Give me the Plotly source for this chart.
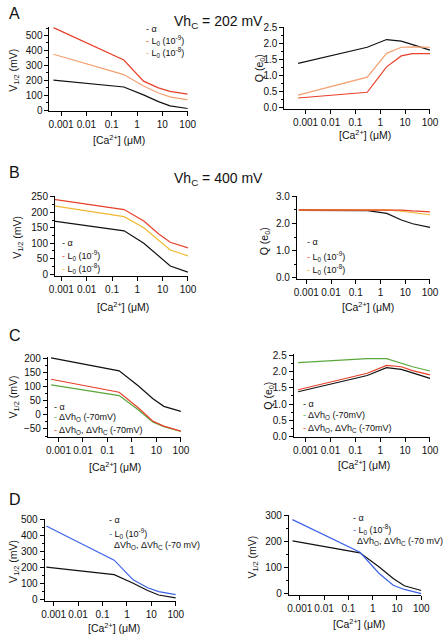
import plotly.graph_objects as go

W, H = 447, 638

# ---------------- data ----------------
ca = [0.0005, 0.3, 1.8, 7, 20, 100]

# Panel A (Vhc = 202 mV)
A_v_alpha = [202, 156, 103, 58, 30, 12]
A_v_L9 = [553, 336, 195, 150, 127, 108]
A_v_L8 = [375, 239, 162, 116, 90, 70]
A_q_alpha = [1.38, 1.88, 2.12, 2.07, 1.96, 1.79]
A_q_L8 = [0.39, 0.95, 1.69, 1.88, 1.89, 1.88]
A_q_L9 = [0.30, 0.48, 1.27, 1.61, 1.68, 1.68]

# Panel B (Vhc = 400 mV)
B_v_alpha = [172, 140, 100, 58, 26, 6]
B_v_L9 = [242, 209, 172, 130, 103, 85]
B_v_L8 = [221, 186, 150, 108, 78, 59]
B_q_alpha = [2.48, 2.47, 2.37, 2.13, 1.99, 1.86]
B_q_L9 = [2.50, 2.51, 2.51, 2.49, 2.46, 2.43]
B_q_L8 = [2.49, 2.50, 2.50, 2.45, 2.39, 2.32]

# Panel C
C_v_dVhO = [106, 68, 18, -25, -42, -59]
C_v_dVhOC = [126, 80, 25, -22, -40, -58]
C_q_dVhO = [2.28, 2.40, 2.40, 2.25, 2.15, 2.02]
C_q_dVhOC = [1.44, 1.95, 2.19, 2.15, 2.03, 1.90]

# Panel D
D_v_L9 = [457, 246, 124, 75, 51, 32]
D_v_L8 = [283, 158, 78, 32, 16, 0]

x_tickvals = [0.001, 0.01, 0.1, 1, 10, 100]
x_ticktext = ["0.001", "0.01", "0.1", "1", "10", "100"]

# ---------------- styles ----------------
BLACK = "#111111"
RED = "#e8402a"
ORANGE = "#f4a070"
YELLOW = "#f2b830"
GREEN = "#5aa83c"
BLUE = "#3d62e8"
FONT = "Liberation Sans, Arial, Helvetica, sans-serif"

fig = go.Figure()

# panel geometry: (xl, xr, x@0.001, x@100, ytop, ybot, v1, p1, v2, p2, dtick, fmt)
panels = [
    (45, 188, 57, 188, 22.5, 108, 0, 107, 500, 31, 100, None),
    (288, 439, 310, 438.7, 22, 105.5, 0, 104.3, 2.5, 22.7, 0.5, ".1f"),
    (50.7, 188.3, 57.3, 188.3, 194, 275, 0, 273.3, 250, 195, 50, None),
    (301, 439, 310.7, 438.7, 194, 278, 0, 277.3, 3.0, 194.3, 1.0, ".1f"),
    (43.3, 181, 54.3, 181, 357.7, 439, -50, 430.7, 200, 359, 50, None),
    (297.7, 439, 310, 438.7, 355, 439, 0, 438.3, 2.5, 356, 0.5, ".1f"),
    (40, 175.7, 49.3, 175.7, 522, 605, 0, 604.3, 500, 522.3, 100, None),
    (292.7, 429.7, 304, 429.7, 518, 599, 0, 598, 300, 518.3, 100, None),
]

layout = {}
for i, (xl, xr, x001, x100, yt, yb, v1, p1, v2, p2, dt, fmt) in enumerate(panels):
    n = "" if i == 0 else str(i + 1)
    dec = (x100 - x001) / 5.0
    xlo = -3 - (x001 - xl) / dec
    xhi = 2 + (xr - x100) / dec
    sc = (p1 - p2) / (v2 - v1)
    ylo = v1 - (yb - p1) / sc
    yhi = v1 + (p1 - yt) / sc
    common = dict(showline=True, linecolor="black", linewidth=1, ticks="outside",
                  ticklen=4, tickwidth=1, tickcolor="black", showgrid=False, zeroline=False,
                  tickfont=dict(family=FONT, size=10, color="#111"))
    layout["xaxis" + n] = dict(common, type="log", range=[xlo, xhi],
                               domain=[xl / W, xr / W], anchor="y" + n, tickangle=0,
                               tickmode="array", tickvals=x_tickvals, ticktext=x_ticktext)
    yd = dict(common, range=[ylo, yhi], domain=[1 - yb / H, 1 - yt / H], anchor="x" + n,
              tickmode="linear", tick0=0, dtick=dt, tickangle=0,
              minor=dict(dtick=dt / 2, tick0=0, ticklen=2, ticks="outside", tickcolor="black"))
    if fmt:
        yd["tickformat"] = fmt
    layout["yaxis" + n] = yd
fig.update_layout(**layout)


def add(ax, y, color):
    n = "" if ax == 1 else str(ax)
    fig.add_trace(go.Scatter(x=ca, y=y, mode="lines", line=dict(color=color, width=1.2),
                             xaxis="x" + n, yaxis="y" + n, cliponaxis=False, showlegend=False,
                             hoverinfo="skip"))


add(1, A_v_alpha, BLACK); add(1, A_v_L8, ORANGE); add(1, A_v_L9, RED)
add(2, A_q_alpha, BLACK); add(2, A_q_L8, ORANGE); add(2, A_q_L9, RED)
add(3, B_v_alpha, BLACK); add(3, B_v_L8, YELLOW); add(3, B_v_L9, RED)
add(4, B_q_alpha, BLACK); add(4, B_q_L8, YELLOW); add(4, B_q_L9, RED)
add(5, A_v_alpha, BLACK); add(5, C_v_dVhO, GREEN); add(5, C_v_dVhOC, RED)
add(6, A_q_alpha, BLACK); add(6, C_q_dVhO, GREEN); add(6, C_q_dVhOC, RED)
add(7, A_v_alpha, BLACK); add(7, D_v_L9, BLUE)
add(8, A_v_alpha, BLACK); add(8, D_v_L8, BLUE)

ann = []


def T(px, py, text, size=10.5, xa="center", ya="middle", angle=0):
    ann.append(dict(x=px / W, y=1 - py / H, xref="paper", yref="paper", text=text,
                    showarrow=False, xanchor=xa, yanchor=ya, textangle=angle,
                    font=dict(family=FONT, size=size, color="#111")))


def dash(c):
    return "<span style='color:%s'>-</span> " % c


# panel letters
T(1, 9, "A", 16, xa="left"); T(1, 170, "B", 16, xa="left")
T(1, 336, "C", 16, xa="left"); T(1, 502, "D", 16, xa="left")
# headers
T(220, 17, "Vh<sub>C</sub> = 202 mV", 14)
T(220, 177, "Vh<sub>C</sub> = 400 mV", 14)

# axis titles
VT = "V<sub>1/2</sub> (mV)"
QT = "Q (e<sub>0</sub>)"
CT = "[Ca<sup>2+</sup>] (\u03bcM)"
T(8, 66, VT, angle=-90); T(117, 137, CT)
T(263, 64, QT, angle=-90); T(371, 132, CT)
T(13, 236, VT, angle=-90); T(121, 306, CT)
T(268, 240, QT, angle=-90); T(375, 306, CT)
T(8, 398, VT, angle=-90); T(113, 469, CT)
T(272, 397, QT, angle=-90); T(370, 467, CT)
T(8, 565, VT, angle=-90); T(112, 632, CT)
T(256, 561, VT, angle=-90); T(365, 628, CT)

LS = 9
L9 = "L<sub>0</sub> (10<sup>-9</sup>)"
L8 = "L<sub>0</sub> (10<sup>-8</sup>)"
# legends
T(143, 24, dash(BLACK) + "\u03b1", LS, xa="left")
T(143, 36.5, dash(RED) + L9, LS, xa="left")
T(143, 48.5, dash(ORANGE) + L8, LS, xa="left")

T(56, 242, dash(BLACK) + "\u03b1", LS, xa="left")
T(56, 254.5, dash(RED) + L9, LS, xa="left")
T(56, 268, dash(YELLOW) + L8, LS, xa="left")

T(309, 241, dash(BLACK) + "\u03b1", LS, xa="left")
T(309, 255.5, dash(RED) + L9, LS, xa="left")
T(309, 269, dash(YELLOW) + L8, LS, xa="left")

T(48, 408.5, dash(BLACK) + "\u03b1", LS, xa="left")
T(48, 419, dash(GREEN) + "\u0394Vh<sub>O</sub> (-70mV)", LS, xa="left")
T(48, 432, dash(RED) + "\u0394Vh<sub>O</sub>, \u0394Vh<sub>C</sub> (-70mV)", LS, xa="left")

T(305, 405, dash(BLACK) + "\u03b1", LS, xa="left")
T(305, 417, dash(GREEN) + "\u0394Vh<sub>O</sub> (-70mV)", LS, xa="left")
T(305, 430, dash(RED) + "\u0394Vh<sub>O</sub>, \u0394Vh<sub>C</sub> (-70mV)", LS, xa="left")

T(105, 523.5, dash(BLACK) + "\u03b1", LS, xa="left")
T(105, 536.5, dash(BLUE) + L9, LS, xa="left")
T(110, 549.5, "\u0394Vh<sub>O</sub>, \u0394Vh<sub>C</sub> (-70 mV)", LS, xa="left")

T(357, 521, dash(BLACK) + "\u03b1", LS, xa="left")
T(357, 532.5, dash(BLUE) + L8, LS, xa="left")
T(361, 545, "\u0394Vh<sub>O</sub>, \u0394Vh<sub>C</sub> (-70 mV)", LS, xa="left")

fig.update_layout(width=W, height=H, margin=dict(l=0, r=0, t=0, b=0),
                  paper_bgcolor="white", plot_bgcolor="white", annotations=ann,
                  showlegend=False, hovermode=False)

fig.write_html("out.html", config={"displayModeBar": False, "staticPlot": True},
               post_script="document.body.style.margin='0';document.body.style.padding='0';"
                           "document.documentElement.style.overflow='hidden';")
